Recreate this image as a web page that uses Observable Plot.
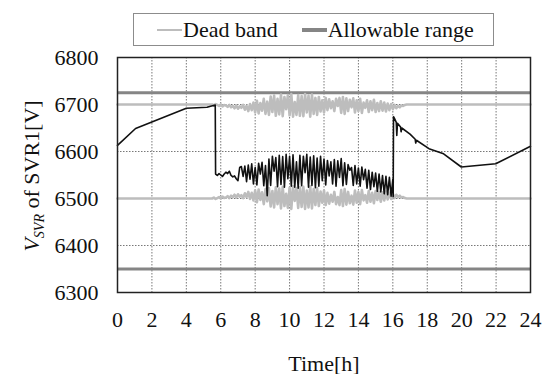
<!DOCTYPE html>
<html>
<head>
<meta charset="utf-8">
<script src="https://cdn.jsdelivr.net/npm/d3@7"></script>
<script src="https://cdn.jsdelivr.net/npm/@observablehq/plot@0.6"></script>
<style>
  body { margin: 0; background: #fff; }
  #chart { position: relative; width: 545px; height: 374px; font-family: "Liberation Serif", "Times New Roman", serif; color: #111; }
  #chart svg { position: absolute; left: 0; top: 0; font-family: "Liberation Serif", "Times New Roman", serif; }
  #chart svg text { font-family: "Liberation Serif", "Times New Roman", serif; }
  #legend { position: absolute; left: 133px; top: 13px; width: 359px; height: 31px; border: 1px solid #8c8c8c; background: #fff;
            display: flex; align-items: center; font-size: 22px; z-index: 2; white-space: nowrap; }
  .sw { display: inline-block; width: 25px; margin-right: 1px; }
</style>
</head>
<body>
<div id="chart">
  <div id="legend">
    <span class="sw" style="height:2px;background:#bdbdbd;margin-left:23px"></span><span>Dead band</span>
    <span class="sw" style="height:4px;background:#858585;margin-left:24px"></span><span>Allowable range</span>
  </div>
</div>
<script>
// Axis ticks
const xTicks = [0, 2, 4, 6, 8, 10, 12, 14, 16, 18, 20, 22, 24];
const yTicks = [6300, 6400, 6500, 6600, 6700, 6800];

// Allowable voltage range [V]
const allowable = [6725, 6350];

// Nominal dead band edges [V]
const deadBandUpperBase = 6700;
const deadBandLowerBase = 6500;

// Dead band edges while the controller is active, sampled every 0.1 h from 5.5 h
const deadBandStart = 5.5, deadBandStep = 0.1;
const deadBandUpper = [
  6700, 6698, 6701, 6699, 6697, 6700, 6696, 6699, 6698, 6695,
  6699, 6694, 6697, 6692, 6698, 6691, 6696, 6693, 6699, 6689,
  6697, 6686, 6701, 6688, 6704, 6683, 6708, 6681, 6703, 6687,
  6712, 6680, 6706, 6678, 6717, 6684, 6719, 6676, 6712, 6679,
  6721, 6675, 6716, 6690, 6720, 6677, 6722, 6674, 6705, 6678,
  6720, 6676, 6718, 6675, 6722, 6683, 6719, 6674, 6721, 6680,
  6714, 6678, 6716, 6685, 6709, 6683, 6714, 6688, 6711, 6692,
  6707, 6686, 6712, 6697, 6714, 6682, 6716, 6680, 6713, 6686,
  6710, 6694, 6713, 6683, 6709, 6686, 6712, 6682, 6704, 6693,
  6709, 6684, 6707, 6688, 6710, 6684, 6703, 6686, 6707, 6687,
  6704, 6685, 6702, 6688, 6701, 6690, 6699, 6692, 6697, 6694,
  6698, 6697, 6699, 6700
];
const deadBandLower = [
  6500, 6502, 6499, 6501, 6503, 6500, 6504, 6501, 6502, 6505,
  6501, 6506, 6503, 6508, 6502, 6509, 6504, 6507, 6501, 6511,
  6503, 6514, 6499, 6512, 6496, 6517, 6492, 6519, 6497, 6513,
  6488, 6520, 6494, 6522, 6483, 6516, 6481, 6524, 6488, 6521,
  6479, 6525, 6484, 6510, 6480, 6523, 6478, 6526, 6495, 6522,
  6480, 6524, 6482, 6525, 6478, 6517, 6481, 6526, 6479, 6520,
  6486, 6522, 6484, 6515, 6491, 6517, 6486, 6512, 6489, 6508,
  6493, 6514, 6488, 6503, 6486, 6518, 6484, 6520, 6487, 6514,
  6490, 6506, 6487, 6517, 6491, 6514, 6488, 6518, 6496, 6507,
  6491, 6516, 6493, 6512, 6490, 6516, 6497, 6514, 6493, 6513,
  6496, 6515, 6498, 6512, 6499, 6510, 6501, 6508, 6503, 6506,
  6502, 6503, 6501, 6500
];

// SVR1 voltage: morning ramp
const vsvrHeadTime = [0, 1.05, 4.0, 5.2, 5.68];
const vsvrHeadValue = [6613, 6649, 6692, 6694, 6699];
// SVR1 voltage during tap hunting, sampled every 0.1 h from 5.7 h
const vsvrDenseStart = 5.7, vsvrDenseStep = 0.1;
const vsvrDense = [
  6552, 6549, 6553, 6550, 6547, 6552, 6556, 6553, 6558, 6549,
  6546, 6548, 6542, 6538, 6566, 6568, 6547, 6569, 6536, 6571,
  6541, 6574, 6531, 6566, 6529, 6575, 6552, 6577, 6527, 6570,
  6506, 6584, 6528, 6590, 6558, 6587, 6525, 6592, 6530, 6589,
  6524, 6594, 6542, 6590, 6526, 6593, 6524, 6578, 6522, 6592,
  6527, 6590, 6555, 6594, 6524, 6588, 6528, 6591, 6523, 6586,
  6526, 6590, 6538, 6584, 6529, 6581, 6548, 6578, 6531, 6583,
  6526, 6580, 6545, 6585, 6527, 6576, 6530, 6572, 6560, 6566,
  6528, 6570, 6531, 6565, 6526, 6567, 6540, 6562, 6522, 6560,
  6519, 6556, 6525, 6554, 6515, 6552, 6514, 6549, 6510, 6547,
  6508, 6545, 6505, 6541
];
// SVR1 voltage: afternoon and evening
const vsvrTailTime = [16.02, 16.04, 16.1, 16.2, 16.23, 16.27, 16.45, 16.48, 16.52, 17.0, 17.3, 17.33, 17.37, 18.1, 18.95, 19.98, 21.98, 24];
const vsvrTailValue = [6504, 6674, 6670, 6662, 6634, 6660, 6652, 6642, 6650, 6637, 6626, 6618, 6624, 6606, 6595, 6567, 6574, 6611];

// Build tables
const sampled = (start, step, values) => values.map((v, i) => ({ t: +(start + i * step).toFixed(2), v }));
const deadRows = [
  ...[{ t: 0, v: deadBandUpperBase }, ...sampled(deadBandStart, deadBandStep, deadBandUpper), { t: 24, v: deadBandUpperBase }]
    .map(d => ({ ...d, edge: "upper" })),
  ...[{ t: 0, v: deadBandLowerBase }, ...sampled(deadBandStart, deadBandStep, deadBandLower), { t: 24, v: deadBandLowerBase }]
    .map(d => ({ ...d, edge: "lower" }))
];
const vsvrRows = [
  ...vsvrHeadTime.map((t, i) => ({ t, v: vsvrHeadValue[i] })),
  ...sampled(vsvrDenseStart, vsvrDenseStep, vsvrDense),
  ...vsvrTailTime.map((t, i) => ({ t, v: vsvrTailValue[i] }))
];

const plot = Plot.plot({
  width: 545,
  height: 374,
  marginLeft: 117,
  marginRight: 15,
  marginTop: 57,
  marginBottom: 82,
  style: { fontFamily: "Liberation Serif, serif", fontSize: "22px", color: "#111", background: "transparent" },
  x: { domain: [0, 24], ticks: xTicks, tickFormat: d => String(d), tickSize: 0, tickPadding: 19,
       label: "Time[h]", labelAnchor: "center", labelArrow: "none", labelOffset: 78 },
  y: { domain: [6300, 6800], ticks: yTicks, tickFormat: d => String(d), tickSize: 0, tickPadding: 19, label: null },
  marks: [
    Plot.gridX(xTicks.slice(1, -1), { stroke: "#555", strokeOpacity: 1, strokeWidth: 0.8, strokeDasharray: "1.5,1.5" }),
    Plot.gridY(yTicks.slice(1, -1), { stroke: "#555", strokeOpacity: 1, strokeWidth: 0.8, strokeDasharray: "1.5,1.5" }),
    Plot.ruleY(allowable, { stroke: "#858585", strokeWidth: 3 }),
    Plot.line(deadRows, { x: "t", y: "v", z: "edge", stroke: "#bdbdbd", strokeWidth: 2.6 }),
    Plot.line(vsvrRows, { x: "t", y: "v", stroke: "#111", strokeWidth: 1.6 }),
    Plot.frame({ stroke: "#222", strokeWidth: 1.5 })
  ]
});

// y-axis title with italic subscripted symbol
const ylabel = d3.select(plot).append("text")
  .attr("transform", "translate(39,176) rotate(-90)")
  .attr("text-anchor", "middle")
  .attr("fill", "#111")
  .style("font-size", "22px");
ylabel.append("tspan").attr("font-style", "italic").text("V");
ylabel.append("tspan").attr("font-style", "italic").attr("font-size", "14px").attr("dy", 5).text("SVR");
ylabel.append("tspan").attr("dy", -5).text(" of SVR1[V]");

document.getElementById("chart").appendChild(plot);
</script>
</body>
</html>
